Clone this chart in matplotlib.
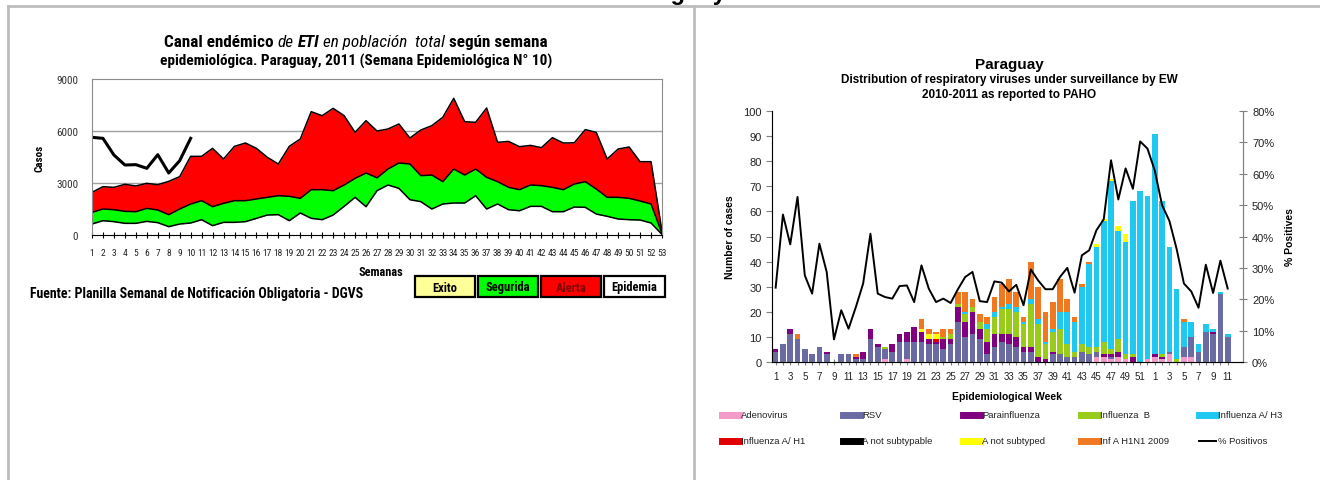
import numpy as np
import matplotlib
matplotlib.use('Agg')
import matplotlib.pyplot as plt
from matplotlib import font_manager
from matplotlib.patches import Rectangle
from matplotlib.lines import Line2D
from matplotlib.ticker import PercentFormatter

W, H = 1320, 481

# ---- left chart: endemic channel (weeks 1..53) ----
semanas = list(range(1, 54))
exito = [635, 827, 770, 673, 673, 788, 712, 481, 635, 692, 884, 538, 730, 730, 770, 961, 1153, 1173,
         827, 1269, 961, 884, 1153, 1653, 2173, 1634, 2557, 2885, 2692, 2038, 1923, 1500, 1788, 1846,
         1846, 2269, 1500, 1788, 1460, 1400, 1653, 1653, 1345, 1345, 1615, 1596, 1211, 1077, 923, 884,
         865, 692, 30]
seguridad = [1307, 1500, 1460, 1365, 1345, 1538, 1442, 1173, 1500, 1788, 1980, 1634, 1827, 1980, 1980,
             2077, 2173, 2269, 2230, 2115, 2615, 2615, 2557, 2885, 3269, 3577, 3300, 3807, 4154, 4096,
             3423, 3460, 3077, 3807, 3460, 3807, 3327, 3077, 2750, 2615, 2885, 2846, 2750, 2615, 2942,
             3077, 2654, 2173, 2173, 2115, 1961, 1788, 80]
alerta = [2463, 2788, 2750, 2923, 2830, 2980, 2900, 3096, 3365, 4538, 4538, 5000, 4384, 5115, 5307, 5000,
          4480, 4096, 5115, 5538, 7115, 6884, 7307, 6884, 5923, 6596, 6000, 6115, 6404, 5596, 6057, 6307,
          6788, 7884, 6538, 6500, 7327, 5346, 5400, 5096, 5170, 5040, 5615, 5307, 5320, 6080, 5923, 4384,
          4960, 5077, 4230, 4230, 200]
casos_2011 = [5635, 5577, 4615, 4038, 4058, 3846, 4634, 3577, 4288, 5577]

# ---- right chart: respiratory viruses by EW 2010-2011 ----
week_labels = list(range(1, 53)) + list(range(1, 12))
adenovirus = [0]*15 + [1, 0, 0, 1] + [0]*25 + [2, 2, 1, 2, 1, 0, 0, 1] + [2, 1, 3, 0, 2, 2, 0, 0, 0, 0, 0]
rsv = [4, 7, 11, 9, 5, 3, 6, 3, 0, 3, 3, 1, 1, 9, 6, 4, 4, 8, 7, 8, 8, 7, 7, 5, 7, 16, 10, 11, 9, 3,
       6, 8, 7, 6, 4, 4, 0, 0, 3, 3, 2, 2, 4, 3, 2, 0, 1, 0, 0, 0, 0, 0,
       0, 0, 1, 0, 4, 8, 4, 12, 11, 27, 10]
parainfluenza = [1, 0, 2, 0, 0, 0, 0, 1, 0, 0, 0, 1, 3, 4, 1, 0, 3, 3, 4, 6, 4, 2, 1, 4, 2, 6, 6, 9, 4, 5,
                 5, 3, 4, 4, 2, 2, 2, 1, 1, 0, 0, 0, 0, 0, 0, 1, 1, 2, 0, 2, 0, 0,
                 1, 1, 0, 0, 0, 0, 0, 0, 1, 0, 0]
influenza_b = [0]*15 + [1] + [0]*7 + [1, 2, 1, 3, 2, 3, 5, 7, 10, 10, 10, 9, 17, 13, 6, 8, 10, 5, 2, 3, 3,
                                    2, 5, 2, 5, 2, 1, 0, 0] + [0, 1, 0, 1, 0, 0, 0, 0, 0, 0, 0]
influenza_h3 = [0]*26 + [1, 0, 0, 2, 2, 1, 2, 2, 1, 2, 2, 1, 1, 7, 13, 12, 23, 33, 40, 48, 67, 43, 45,
                         61, 68, 65] + [88, 61, 42, 28, 10, 6, 3, 3, 1, 1, 1]
influenza_h1 = [0]*22 + [1] + [0]*40
a_not_subtypable = [0]*63
a_not_subtyped = [0]*20 + [1, 2, 2] + [0]*21 + [1, 1, 1, 2, 3] + [0]*14
h1n1_2009 = [0, 0, 0, 2] + [0]*7 + [1] + [0]*8 + [4, 2, 1, 3, 2, 5, 8, 3, 3, 3, 6, 9, 10, 6, 2, 15, 13,
                                               12, 11, 13, 5, 2, 1, 1] + [0]*8 + [0, 0, 0, 0, 1, 0, 0, 0, 0, 0, 0]
pct_positivos = [23.7, 47, 37.5, 52.6, 27.6, 21.8, 37.7, 28.7, 7.2, 16.5, 10.6, 17.5, 25, 40.9, 21.8,
                 20.7, 20.2, 24.2, 24.4, 19.1, 30.8, 23.4, 19.1, 20.2, 18.8, 23.2, 27.1, 28.7, 19.4, 19.1,
                 25.7, 25.3, 22.5, 24.6, 18.1, 29.5, 26, 23.2, 23.2, 27.1, 30, 22.1, 34, 35.6, 42, 45.5,
                 64.3, 51.8, 61.7, 55.2, 70.3, 68,
                 61, 50, 45, 36, 25, 22.5, 17.3, 31, 22, 32.3, 23.4]

series = [
    ('Adenovirus', adenovirus, '#F49AC8'),
    ('RSV', rsv, '#6B6BA3'),
    ('Parainfluenza', parainfluenza, '#800080'),
    ('Influenza  B', influenza_b, '#99CC1A'),
    ('Influenza A/ H3', influenza_h3, '#1EC8F0'),
    ('Influenza A/ H1', influenza_h1, '#E00000'),
    ('A not subtypable', a_not_subtypable, '#000000'),
    ('A not subtyped', a_not_subtyped, '#FFFF00'),
    ('Inf A H1N1 2009', h1n1_2009, '#F07820'),
]


def heavy(w):
    if isinstance(w, str):
        return w in ('bold', 'heavy', 'black', 'extra bold', 'semibold', 'demibold')
    return w >= 600


# a condensed face with a bold weight if one is installed
faces = {}
for f in font_manager.fontManager.ttflist:
    if 'Narrow' in f.name or 'Condensed' in f.name:
        faces.setdefault(f.name, []).append(heavy(f.weight))
narrow = 'Liberation Sans'
for name in ['Liberation Sans Narrow', 'Roboto Condensed', 'DejaVu Sans Condensed', 'Open Sans Condensed']:
    if name in faces and any(faces[name]):
        narrow = name
        break
else:
    for name, ws in faces.items():
        if any(ws):
            narrow = name
            break
plt.rcParams['font.family'] = ['Liberation Sans', 'DejaVu Sans']

fig = plt.figure(figsize=(W/100, H/100), dpi=100)
R = fig.canvas.get_renderer()


def fx(x):
    return x / W


def fy(y):
    return 1 - y / H


def fit_size(t, target):
    # shrink or grow a text so it spans the target width in pixels
    w = t.get_window_extent(R).width
    t.set_fontsize(t.get_fontsize() * target / w)


# frame lines of the table the charts sit in
grey = '#BDBDBD'
fig.add_artist(Line2D([fx(8), 1], [fy(7), fy(7)], color=grey, lw=2))
fig.add_artist(Line2D([fx(8), fx(8)], [fy(7), 0], color=grey, lw=2))
fig.add_artist(Line2D([fx(694), fx(694)], [fy(7), 0], color=grey, lw=2))
fig.text(fx(673), 1.0, 'Paraguay', ha='center', va='baseline', fontsize=17, fontweight='bold')


def measure(parts, size, family):
    probe1 = fig.text(0, 0, 'x x', fontsize=size, family=family, fontweight='bold')
    probe2 = fig.text(0, 0, 'xx', fontsize=size, family=family, fontweight='bold')
    sp = probe1.get_window_extent(R).width - probe2.get_window_extent(R).width
    probe1.remove()
    probe2.remove()
    widths = []
    for s, wt, st in parts:
        t = fig.text(0, 0, s, fontsize=size, fontweight=wt, fontstyle=st, family=family)
        widths.append(t.get_window_extent(R).width)
        t.remove()
    return sp, widths


def rich_line(xc, yb, parts, target, family):
    # a centred line made of pieces in different weights / styles
    size = 10.0
    for _ in range(3):
        sp, widths = measure(parts, size, family)
        total = sum(widths) + sp * (len(parts) - 1)
        size = size * target / total
    sp, widths = measure(parts, size, family)
    total = sum(widths) + sp * (len(parts) - 1)
    x0 = xc - total / 2
    for (s, wt, st), w in zip(parts, widths):
        fig.text(fx(x0), fy(yb), s, fontsize=size, fontweight=wt, fontstyle=st, family=family,
                 va='baseline')
        x0 += w + sp


# ---------------- left chart ----------------
axl = fig.add_axes([fx(92), fy(236), fx(662) - fx(92), fy(80) - fy(236)])
axl.fill_between(semanas, exito, seguridad, color='#00FF00', lw=0)
axl.fill_between(semanas, seguridad, alerta, color='#FF0000', lw=0)
for s in (exito, seguridad, alerta):
    axl.plot(semanas, s, color='black', lw=1.1)
axl.plot(semanas[:len(casos_2011)], casos_2011, color='black', lw=2.2)
axl.set_xlim(1, 53)
axl.set_ylim(0, 9000)
axl.set_yticks([0, 3000, 6000, 9000])
for v in (3000, 6000):
    axl.axhline(v, color='#A0A0A0', lw=1, zorder=0)
axl.set_xticks(semanas)
axl.set_xticklabels([str(w) for w in semanas], family=narrow, fontsize=6.8, color='#222222')
axl.tick_params(axis='x', direction='inout', length=5, width=0.8, pad=7)
axl.tick_params(axis='y', length=0, pad=10, labelsize=8, labelcolor='#333333')
for lab in axl.get_yticklabels():
    lab.set_family(narrow)
for side in ('top', 'right', 'left'):
    axl.spines[side].set_color('#8C8C8C')
axl.spines['bottom'].set_color('black')
axl.set_ylabel('Casos', family=narrow, fontsize=8, fontweight='bold', labelpad=8)

rich_line(356, 47, [('Canal endémico', 'bold', 'normal'), ('de', 'normal', 'italic'),
                    ('ETI', 'bold', 'italic'), ('en población  total', 'normal', 'italic'),
                    ('según semana', 'bold', 'normal')], 385, narrow)
rich_line(356, 66, [('epidemiológica. Paraguay, 2011 (Semana Epidemiológica N° 10)', 'bold', 'normal')],
          392, narrow)

t = fig.text(fx(381), fy(273), 'Semanas', ha='center', va='center', family=narrow, fontsize=8,
             fontweight='bold')
fit_size(t, 45)
t = fig.text(fx(30), fy(294), 'Fuente: Planilla Semanal de Notificación Obligatoria - DGVS', ha='left',
             va='center', family=narrow, fontsize=8.4, fontweight='bold')
fit_size(t, 330)
boxes = [('Exito', '#FFFF99', 'black', 415, 475), ('Segurida', '#00FF00', 'black', 478, 538),
         ('Alerta', '#FF0000', '#800000', 541, 601), ('Epidemia', 'white', 'black', 604, 665)]
for lab, fc, tc, x0, x1 in boxes:
    fig.add_artist(Rectangle((fx(x0), fy(298)), fx(x1) - fx(x0), fy(277) - fy(298),
                             facecolor=fc, edgecolor='black', lw=1.6, transform=fig.transFigure))
    fig.text(fx((x0 + x1) / 2), fy(288), lab, ha='center', va='center', family=narrow, fontsize=9,
             fontweight='bold', color=tc)

# ---------------- right chart ----------------
axr = fig.add_axes([fx(772), fy(363), fx(1243) - fx(772), fy(112) - fy(363)])
idx = np.arange(len(week_labels))
bottom = np.zeros(len(week_labels))
for name, vals, col in series:
    vals = np.array(vals, dtype=float)
    axr.bar(idx, vals, width=0.78, bottom=bottom, color=col, lw=0, zorder=2)
    bottom += vals
axr.set_xlim(-0.5, 64.1)
axr.set_ylim(0, 100)
axr.set_yticks(range(0, 101, 10))
axr.set_xticks(idx[::2])
axr.set_xticklabels([str(w) for w in week_labels[::2]], fontsize=7, color='#222222')
axr.set_xticks(idx, minor=True)
axr.tick_params(axis='x', which='both', direction='inout', length=5, width=0.8, color='#808080', pad=4)
axr.tick_params(axis='y', direction='out', length=4, color='#808080', labelsize=8, labelcolor='#222222')
axr.spines['top'].set_visible(False)
for side in ('left', 'right', 'bottom'):
    axr.spines[side].set_color('#808080')
axr.set_ylabel('Number of cases', fontsize=7.5, fontweight='bold', labelpad=6)
axr.set_xlabel('Epidemiological Week', fontsize=7.5, fontweight='bold', labelpad=7)

ax2 = axr.twinx()
ax2.plot(idx, np.array(pct_positivos) / 100, color='black', lw=1.4, zorder=3)
ax2.set_ylim(0, 0.8)
ax2.set_yticks(np.arange(0, 0.81, 0.1))
ax2.yaxis.set_major_formatter(PercentFormatter(1.0, decimals=0))
ax2.tick_params(axis='y', direction='inout', length=6, color='#808080', labelsize=8, labelcolor='#222222')
ax2.spines['top'].set_visible(False)
ax2.spines['right'].set_color('#808080')
ax2.set_ylabel('% Positives', fontsize=7.5, fontweight='bold', rotation=90, labelpad=8)

fig.text(fx(1009), fy(65), 'Paraguay', ha='center', va='center', fontsize=11, fontweight='bold')
fig.text(fx(1009), fy(80), 'Distribution of respiratory viruses under surveillance by EW', ha='center',
         va='center', fontsize=8.5, fontweight='bold')
fig.text(fx(1009), fy(95), '2010-2011 as reported to PAHO', ha='center', va='center', fontsize=8.5,
         fontweight='bold')

# legend, two rows of five
leg_x = [741, 862, 982, 1100, 1218]
leg_y = [416, 442]
entries = [(n, c, 5) for n, _, c in series] + [('% Positivos', 'black', 1.4)]
for k, (name, col, lw) in enumerate(entries):
    xt = leg_x[k % 5]
    yt = leg_y[k // 5]
    fig.add_artist(Line2D([fx(xt - 19), fx(xt - 2)], [fy(yt), fy(yt)], color=col, lw=lw))
    fig.text(fx(xt), fy(yt), name, ha='left', va='center', fontsize=6.8, color='#222222')

fig.savefig('out.png', dpi=100)
